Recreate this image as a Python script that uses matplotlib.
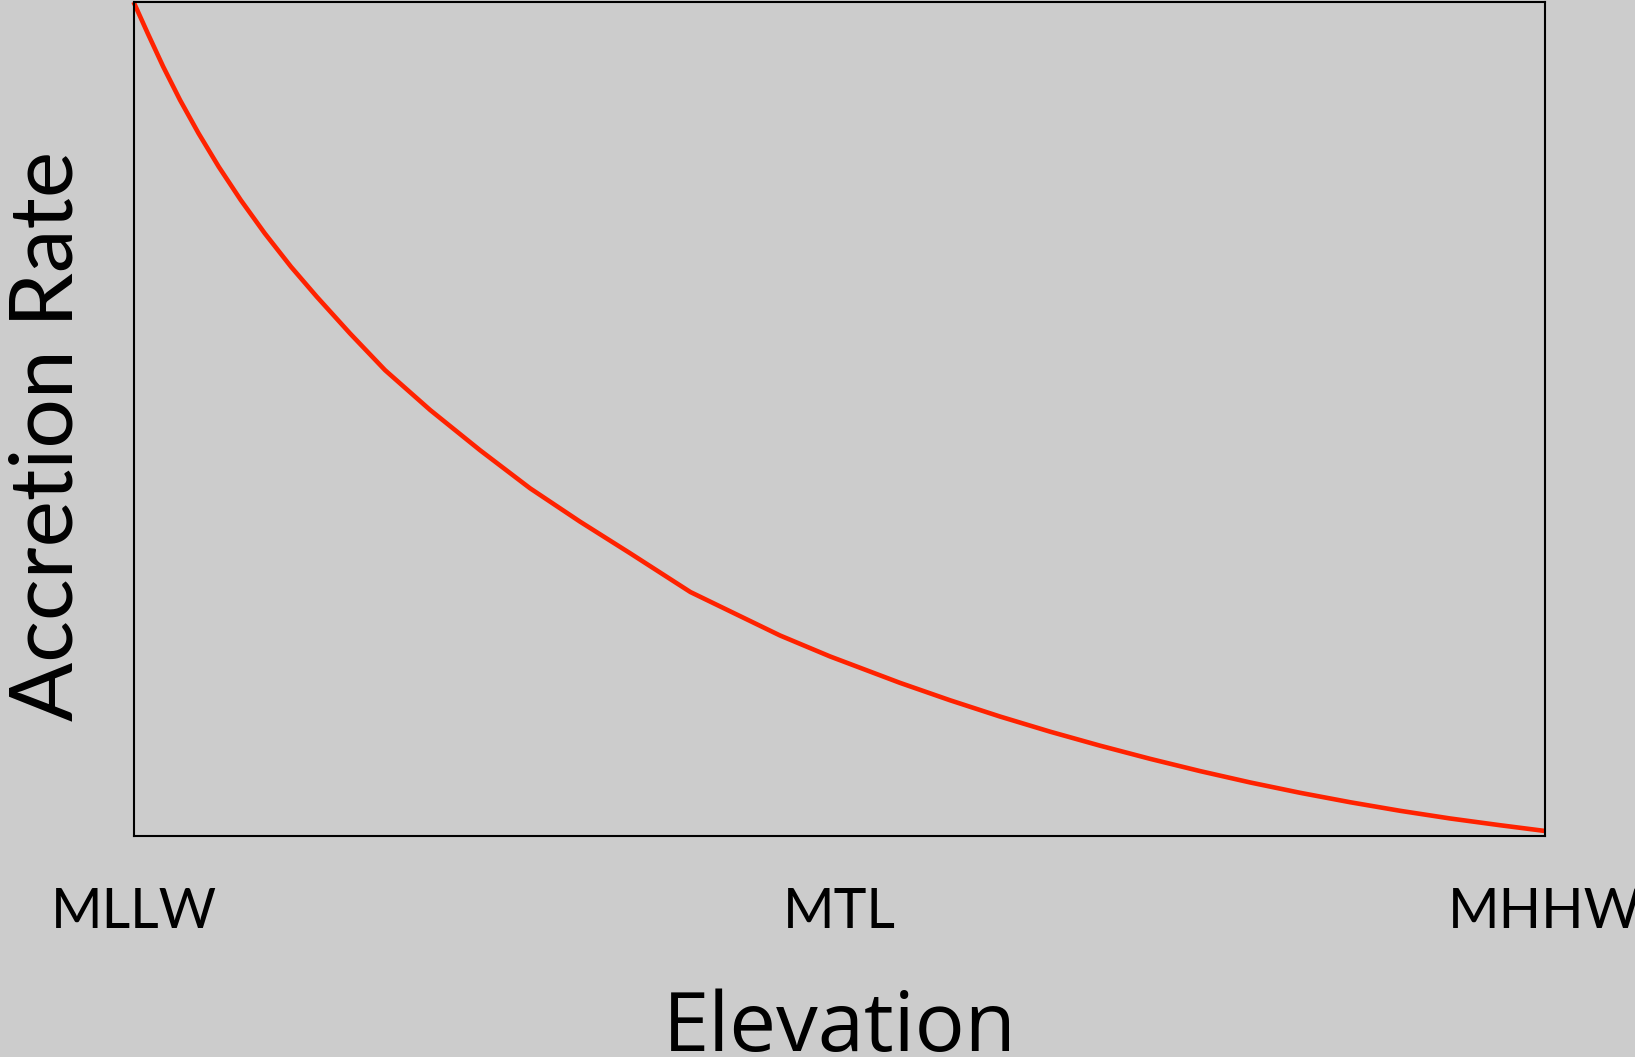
import matplotlib
matplotlib.use("Agg")
import matplotlib.pyplot as plt

# Relative elevation (0 = MLLW, 1 = MHHW) and relative accretion rate
elevation = [0.0, 0.0100, 0.0210, 0.0329, 0.0460, 0.0603, 0.0759, 0.0929, 0.1115,
             0.1298, 0.1534, 0.1782, 0.2101, 0.2455, 0.2809, 0.3163, 0.3518, 0.3945,
             0.4580, 0.4934, 0.5430, 0.5785, 0.6139, 0.6493, 0.6847, 0.7202, 0.7556,
             0.7910, 0.8264, 0.8618, 0.8973, 0.9327, 0.9681, 1.0]
accretion = [1.0, 0.9625, 0.9224, 0.8825, 0.8426, 0.8025, 0.7626, 0.7227, 0.6826,
             0.6466, 0.6025, 0.5585, 0.5108, 0.4625, 0.4169, 0.3769, 0.3390, 0.2925,
             0.2404, 0.2153, 0.1836, 0.1627, 0.1432, 0.1251, 0.1083, 0.0925, 0.0778,
             0.0642, 0.0518, 0.0405, 0.0302, 0.0210, 0.0129, 0.0060]
tick_positions = [0.0, 0.5, 1.0]
tick_labels = ["MLLW", "MTL", "MHHW"]

bg = "#cccccc"
fig = plt.figure(figsize=(16.35, 10.57), dpi=100, facecolor=bg)
ax = fig.add_axes([0.0817, 0.2091, 0.8633, 0.789])
ax.set_facecolor(bg)

ax.plot(elevation, accretion, color="#ff2200", lw=3.3, clip_on=False,
        solid_capstyle="butt", solid_joinstyle="round")

ax.set_xlim(0, 1)
ax.set_ylim(0, 1)
ax.set_xticks(tick_positions)
ax.set_xticklabels(tick_labels, fontsize=40, family="Lato")
ax.set_yticks([])
ax.tick_params(axis="x", length=0, pad=37)
for s in ax.spines.values():
    s.set_color("black")
    s.set_linewidth(1.5)

ax.set_xlabel("Elevation", fontsize=60, family="Open Sans", labelpad=36)
ax.set_ylabel("Accretion Rate", fontsize=63, family="Lato")
ax.yaxis.set_label_coords(-0.0327, 0.48)

fig.savefig("out.png", dpi=100, facecolor=bg)
